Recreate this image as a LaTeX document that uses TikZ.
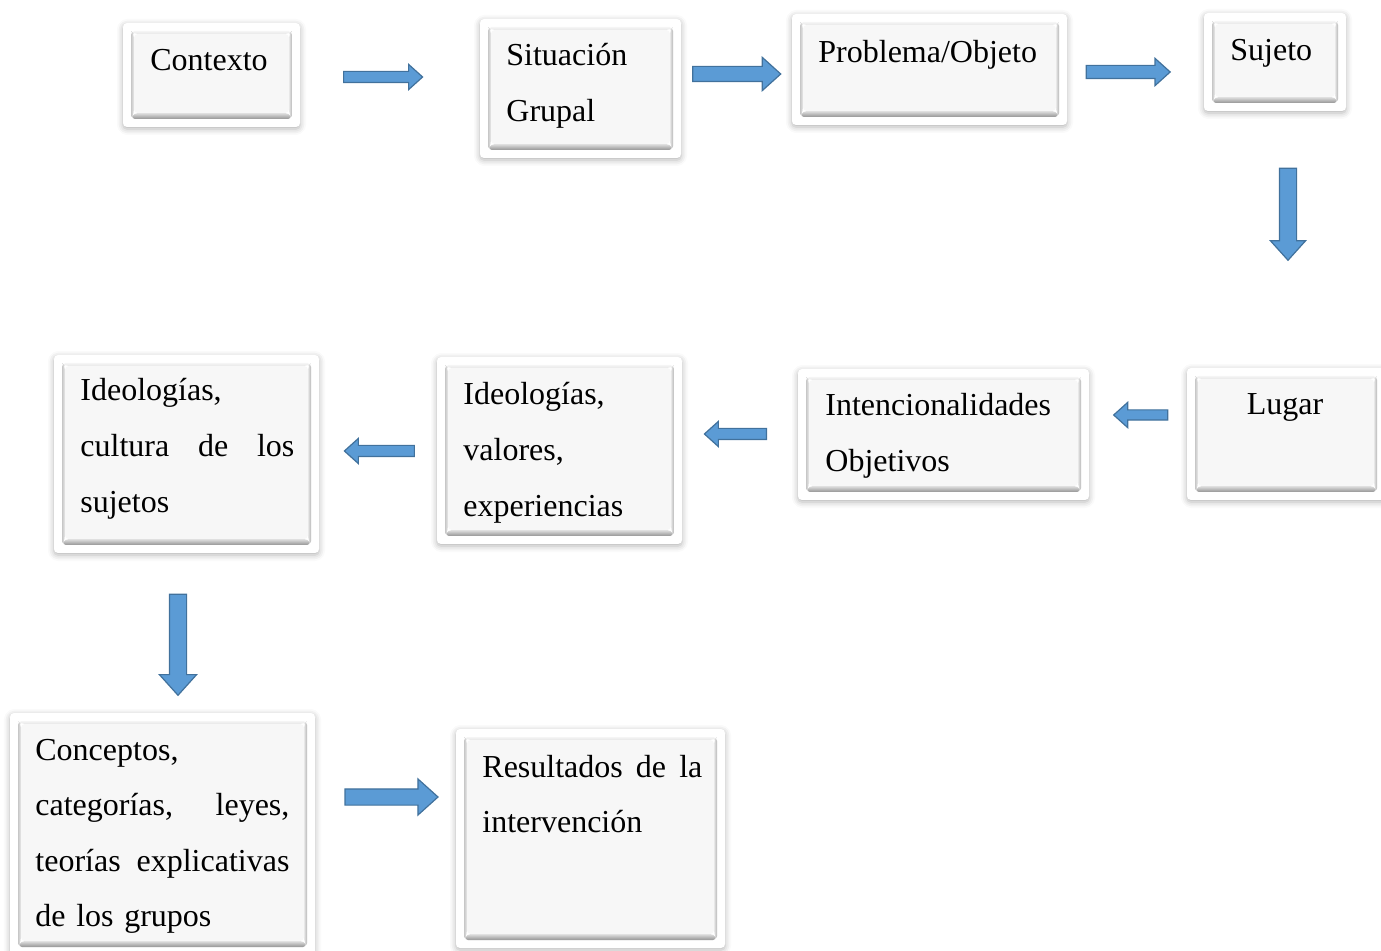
\documentclass[tikz,border=0pt]{standalone}
\usepackage{fontspec}
\setmainfont{Liberation Serif}
\usetikzlibrary{calc,fit,shapes.arrows,shadows.blur}
\definecolor{arrowblue}{HTML}{5B9BD5}
\definecolor{arrowedge}{HTML}{41719C}
\tikzset{%
  box/.style={rectangle, fill=white, inner sep=0pt, rounded corners=2pt,
    blur shadow={shadow xshift=0pt, shadow yshift=-1pt, shadow blur radius=3pt, shadow opacity=30},
    path picture={
      \coordinate (pA) at ([shift={(4pt,-4pt)}]path picture bounding box.north west);
      \coordinate (pB) at ([shift={(-4pt,4pt)}]path picture bounding box.south east);
      \shade[top color=black!4, bottom color=black!10] (pA) -- (pA -| pB) -- ([shift={(-1.5pt,-1.5pt)}]pA -| pB) -- ([shift={(1.5pt,-1.5pt)}]pA) -- cycle;
      \shade[left color=black!22, right color=black!8] (pA) -- (pA |- pB) -- ([shift={(1.5pt,3pt)}]pA |- pB) -- ([shift={(1.5pt,-1.5pt)}]pA) -- cycle;
      \shade[left color=black!10, right color=black!28] (pA -| pB) -- (pB) -- ([shift={(-1.5pt,3pt)}]pB) -- ([shift={(-1.5pt,-1.5pt)}]pA -| pB) -- cycle;
      \shade[top color=black!12, bottom color=black!42] (pA |- pB) -- (pB) -- ([shift={(-1.5pt,3pt)}]pB) -- ([shift={(1.5pt,3pt)}]pA |- pB) -- cycle;
      \fill[black!3]  ([shift={(1.5pt,-1.5pt)}]pA) rectangle ([shift={(-1.5pt,3pt)}]pB);
    }},
  txt/.style={inner sep=0pt, anchor=base west, align=left,
    font=\fontsize{16pt}{27.8pt}\selectfont},
  arr/.style n args={3}{single arrow, draw=arrowedge, fill=arrowblue, line width=0.6pt,
    inner xsep=0pt, inner ysep=#2, minimum height=#1, single arrow head extend=#3,
    single arrow head indent=0pt, single arrow tip angle=84},
}

\begin{document}
\begin{tikzpicture}[x=0.5pt,y=-0.5pt]
  \useasboundingbox (0,0) rectangle (1381,951);
  % boxes
  \node[box, fit={(123,23) (300,127)}]   (contexto) {};
  \node[box, fit={(480,19) (681,158)}]   (situacion) {};
  \node[box, fit={(792,14) (1067,125)}]  (problema) {};
  \node[box, fit={(1204,13) (1346,111)}] (sujeto) {};
  \node[box, fit={(1187,368) (1385,500)}] (lugar) {};
  \node[box, fit={(798,369) (1089,500)}] (intencion) {};
  \node[box, fit={(437,357) (682,544)}]  (valores) {};
  \node[box, fit={(54,355) (319,553)}]   (cultura) {};
  \node[box, fit={(10,713) (315,955)}]   (conceptos) {};
  \node[box, fit={(456,729) (725,948)}]  (resultados) {};
  % texts
  \node[txt] (contexto-t) at (150,71) {Contexto};
  \node[txt, text width=85pt] (situacion-t) at (506,66) {Situación\\Grupal};
  \node[txt] (problema-t) at (818,63) {Problema/Objeto};
  \node[txt] (sujeto-t) at (1230,61) {Sujeto};
  \node[txt, anchor=base] (lugar-t) at (1285,415) {Lugar};
  \node[txt, text width=125pt] (intencion-t) at (825,416) {Intencionalidades\\Objetivos};
  \node[txt, text width=95pt] (valores-t) at (463,405) {Ideologías,\\valores,\\experiencias};
  \node[txt, text width=107pt] (cultura-t) at (80,401) {Ideologías,\\cultura \hfill de \hfill los\\sujetos};
  \node[txt, text width=127pt] (conceptos-t) at (35,760)
    {Conceptos,\\categorías,\hfill leyes,\\teorías\hfill explicativas\\de los grupos};
  \node[txt, text width=110pt] (resultados-t) at (482,777) {Resultados\hfill de\hfill la\\intervención};
  % block arrows: name/x/y/rotation/length/half shaft/extend
  \foreach \n/\x/\y/\r/\l/\s/\e in {
      a1/380/77/0/39.5pt/2.5pt/3.5pt,
      a2/732.5/74/0/44pt/3.5pt/4.5pt,
      a3/1124.5/72/0/42pt/3pt/3.5pt,
      a4/1288/209.5/-90/46pt/4pt/4.5pt,
      a5/1143.5/415/180/27pt/2.25pt/3.75pt,
      a6/738.5/434/180/31pt/2.5pt/3.5pt,
      a7/382.5/451/180/35pt/2.5pt/3.5pt,
      a8/178/640/-90/50.5pt/4pt/5pt,
      a9/387/797/0/46.5pt/3.75pt/5pt}{
    \node[arr={\l}{\s}{\e}, rotate=\r] (\n) at (\x,\y) {};
  }
\end{tikzpicture}
\end{document}
